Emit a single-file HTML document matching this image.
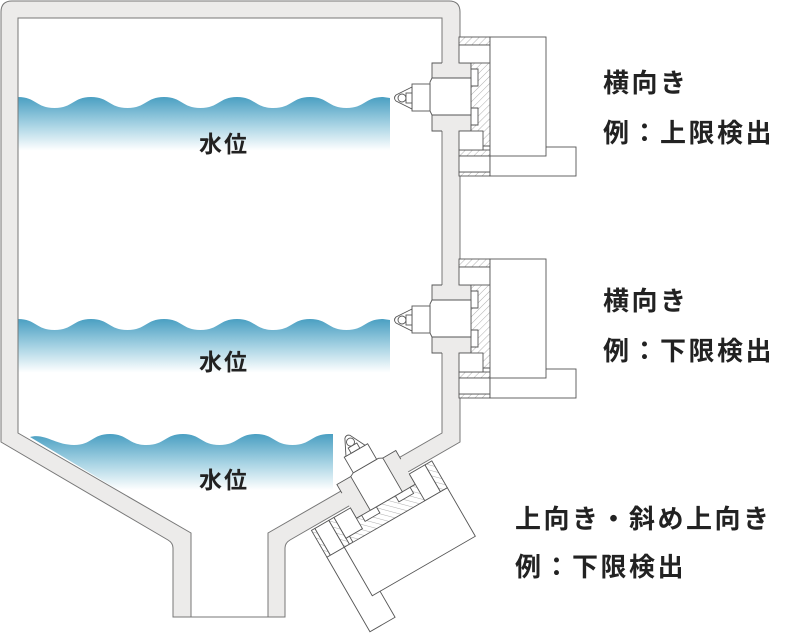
<!DOCTYPE html>
<html><head><meta charset="utf-8"><style>
html,body{margin:0;padding:0;background:#fff}
svg{display:block}
text{font-family:"Liberation Sans","Noto Sans CJK JP",sans-serif;font-weight:bold;fill:#222}
</style></head><body>
<svg width="798" height="634" viewBox="0 0 798 634" xmlns="http://www.w3.org/2000/svg">
<defs>
<linearGradient id="wg" x1="0" y1="0" x2="0" y2="1">
<stop offset="0" stop-color="#4a9fc2"/><stop offset="0.45" stop-color="#a9d4e4"/><stop offset="0.85" stop-color="#ffffff"/>
</linearGradient>
<pattern id="ht" width="5" height="5" patternUnits="userSpaceOnUse" patternTransform="rotate(45)">
<rect width="5" height="5" fill="#fff"/><line x1="0" y1="0" x2="0" y2="5" stroke="#999" stroke-width="0.8"/>
</pattern>
<g id="sensor" stroke="#555" stroke-width="0.9">
<rect x="432" y="63" width="39" height="68" fill="#ecebea" stroke="none"/>
<path d="M442,63 H432 V131 H442 M460,63 H471 V131 H460" fill="none"/>
<rect x="459" y="37" width="31" height="8" fill="url(#ht)"/>
<rect x="459" y="150" width="31" height="6" fill="url(#ht)"/>
<rect x="459" y="172" width="31" height="4" fill="url(#ht)"/>
<path d="M471,58 H483 V62 H491 V146 H483 V150 H471 V125 H478 V108 H471 V86 H478 V69 H471 Z" fill="url(#ht)"/>
<rect x="459" y="45" width="31" height="18" fill="#fff"/>
<rect x="459" y="131" width="24" height="19" fill="#fff"/>
<rect x="459" y="156" width="31" height="16" fill="#fff"/>
<rect x="490" y="147" width="86" height="29" fill="#fff"/>
<rect x="490" y="37" width="56" height="119" fill="#fff"/>
<path d="M432,78 H471 V115 H432 L430,111 V82 Z" fill="#fff"/>
<rect x="412" y="84" width="18" height="27" fill="#fff"/>
<path d="M412,87 L396,95 Q393,98 396,101 L412,109 Z" fill="#fff"/>
<circle cx="402" cy="98" r="4" fill="#fff"/>
<rect x="406" y="93" width="6" height="10" fill="#fff"/>
</g>
</defs>

<!-- water -->
<path d="M18,97 C36,97 36,108 54.5,108 C73,108 73,97 91,97 C109,97 109,108 127.5,108 C146,108 146,97 164,97 C182,97 182,108 200.5,108 C219,108 219,97 237,97 C255,97 255,108 273.5,108 C292,108 292,97 310,97 C328,97 328,108 346.5,108 C365,108 365,97 383,97 L390,98 L390,160 L18,160 Z" fill="url(#wg)"/>
<path d="M18,319 C36,319 36,330 54.5,330 C73,330 73,319 91,319 C109,319 109,330 127.5,330 C146,330 146,319 164,319 C182,319 182,330 200.5,330 C219,330 219,319 237,319 C255,319 255,330 273.5,330 C292,330 292,319 310,319 C328,319 328,330 346.5,330 C365,330 365,319 383,319 L390,320 L390,382 L18,382 Z" fill="url(#wg)"/>
<path d="M30,437 C45,433 55,445 74,445 C92,445 92,434 110,434 C128,434 128,445 146.5,445 C165,445 165,434 183,434 C201,434 201,445 219.5,445 C238,445 238,434 256,434 C274,434 274,445 292.5,445 C311,445 311,434 329,434 L333,434 L333,500 L135,500 Z" fill="url(#wg)"/>

<!-- tank -->
<path fill-rule="evenodd" fill="#ecebea" stroke="#777" stroke-width="1"
d="M173,617 V548 Q173,543 168,540 L1,442 V12 Q1,1 12,1 H449 Q460,1 460,12 V442 L290,540 Q285,543 285,548 V617 H268 V533 L442,433 V18 H18 V433 L191,533 V617 Z"/>
<line x1="173" y1="617" x2="285" y2="617" stroke="#777"/>

<use href="#sensor"/>
<use href="#sensor" transform="translate(0,222)"/>
<g transform="translate(347,436) rotate(60) translate(-395,-98)">
<use href="#sensor"/>
</g>

<text x="199" y="152" font-size="23" letter-spacing="2">水位</text>
<text x="199" y="370" font-size="23" letter-spacing="2">水位</text>
<text x="199" y="488" font-size="23" letter-spacing="2">水位</text>

<text x="603" y="92" font-size="26" letter-spacing="2.5">横向き</text>
<text x="603" y="142" font-size="26" letter-spacing="2.5">例：上限検出</text>
<text x="603" y="310" font-size="26" letter-spacing="2.5">横向き</text>
<text x="603" y="360" font-size="26" letter-spacing="2.5">例：下限検出</text>
<text x="515" y="528" font-size="26" letter-spacing="2.5">上向き・斜め上向き</text>
<text x="515" y="576" font-size="26" letter-spacing="2.5">例：下限検出</text>
</svg>
</body></html>
